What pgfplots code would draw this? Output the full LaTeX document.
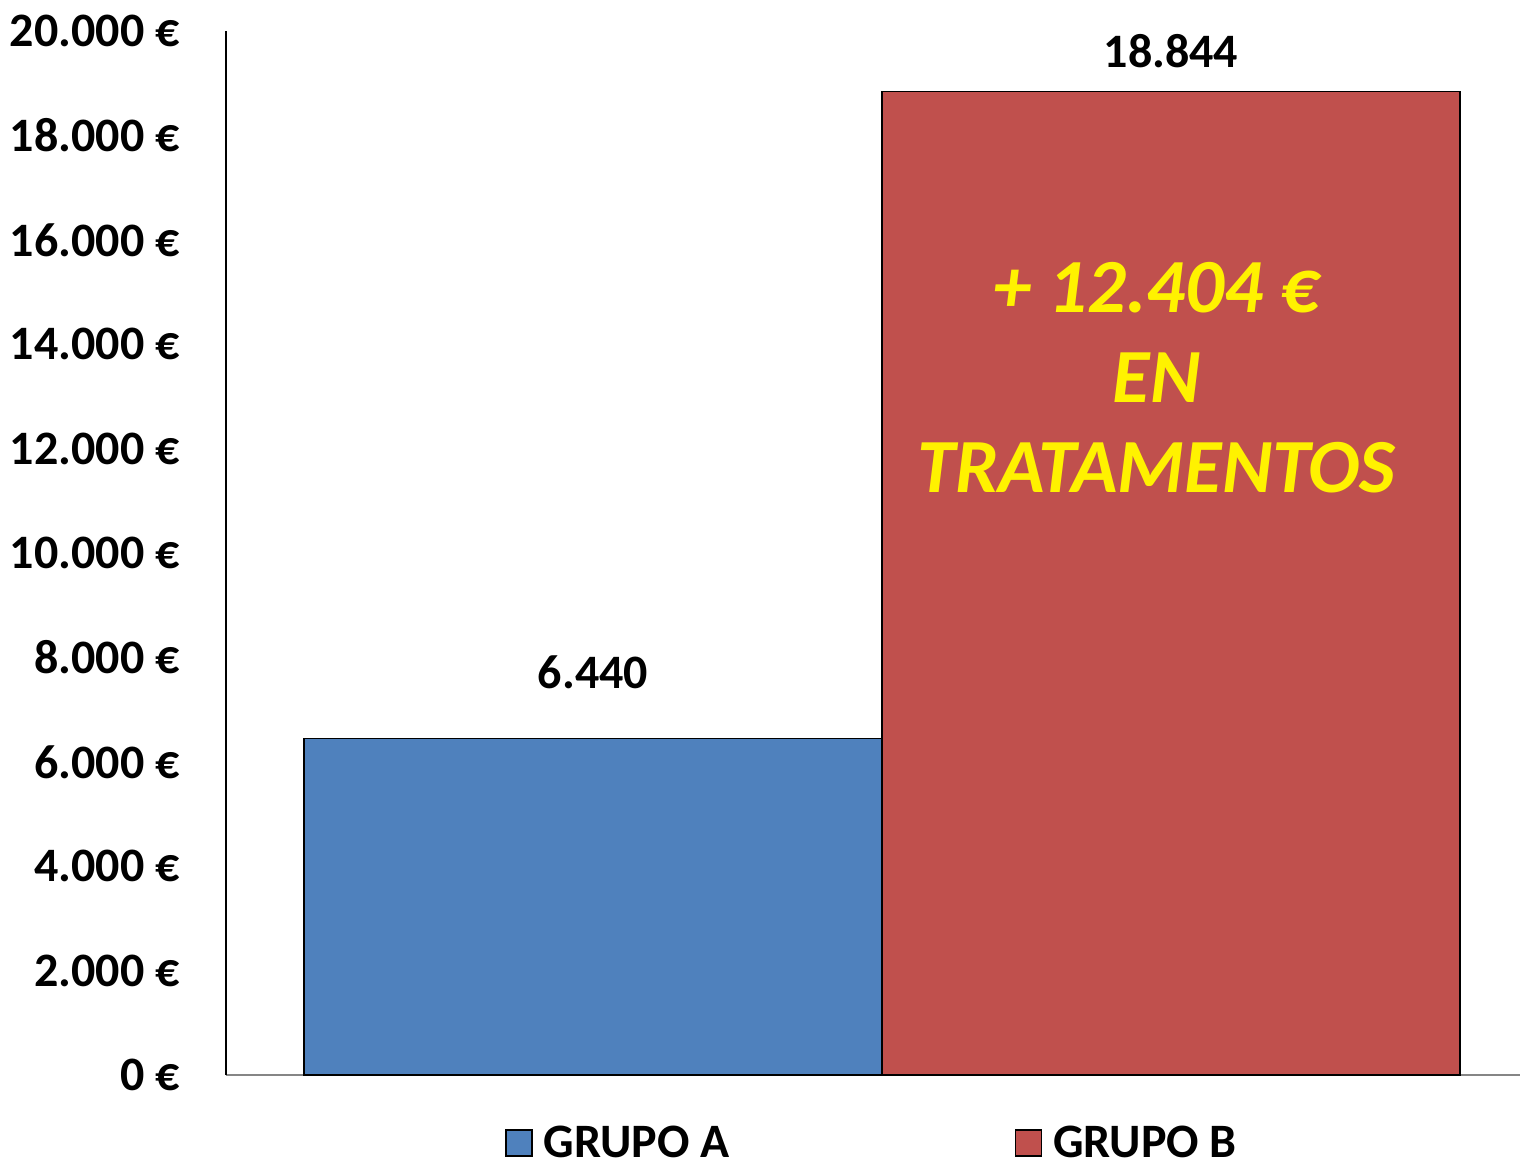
\documentclass[border=0pt]{standalone}
\usepackage{fontspec}
\setmainfont{Carlito}
\usepackage{pgfplots}
\pgfplotsset{compat=1.18}
\definecolor{barA}{HTML}{4F81BD}
\definecolor{barB}{HTML}{C0504D}
\definecolor{xgray}{HTML}{868686}
\begin{document}
\begin{tikzpicture}
\begin{axis}[
  scale only axis,
  width=647pt, height=522pt,
  xmin=-0.635, xmax=1.604,
  ymin=0, ymax=20000,
  axis x line=bottom, axis y line=left,
  x axis line style={draw=xgray, line width=1pt, -},
  y axis line style={draw=black, line width=1pt, -},
  xtick=\empty,
  ytick={0,2000,4000,6000,8000,10000,12000,14000,16000,18000,20000},
  yticklabels={0 €,2.000 €,4.000 €,6.000 €,8.000 €,10.000 €,12.000 €,14.000 €,16.000 €,18.000 €,20.000 €},
  major tick length=0pt,
  yticklabel style={font=\fontsize{24}{28}\selectfont\bfseries, inner sep=0pt, anchor=east, xshift=-23pt},
  ybar, bar width=289pt, bar shift=0pt,
  nodes near coords,
  point meta=explicit symbolic,
  every node near coord/.append style={font=\fontsize{24}{28}\selectfont\bfseries, black, anchor=center},
  legend columns=2,
  legend style={at={(0.5,-0.0651)}, anchor=center, draw=none, fill=none,
    font=\fontsize{24}{28}\selectfont\bfseries,
    /tikz/every even column/.append style={column sep=140.5pt},
    /tikz/every odd column/.append style={column sep=0pt},
    inner sep=0pt},
  legend image code/.code={\draw[#1, draw=black, line width=0.75pt] (0pt,-6.5pt) rectangle (13pt,6.5pt);\path[draw=none,fill=none] (0pt,0pt) rectangle (17pt,0pt);},
  clip=false,
]
\addplot[fill=barA, draw=black, line width=0.6pt, every node near coord/.append style={yshift=33.5pt}] coordinates {(0,6440) [6.440]};
\addlegendentry{GRUPO A}
\addplot[fill=barB, draw=black, line width=0.6pt, every node near coord/.append style={yshift=20pt}] coordinates {(1,18844) [18.844]};
\addlegendentry{GRUPO B}
\node[text=yellow, font=\fontsize{38.3}{45}\selectfont\bfseries\itshape, align=center, anchor=center] at (axis cs:0.975,13352) {+ 12.404 €\\EN\\TRATAMENTOS};
\end{axis}
\pgfresetboundingbox
\path[use as bounding box] ([shift={(-113pt,-43.5pt)}]current axis.south west) rectangle ([shift={(0.5pt,15.5pt)}]current axis.north east);
\end{tikzpicture}
\end{document}
